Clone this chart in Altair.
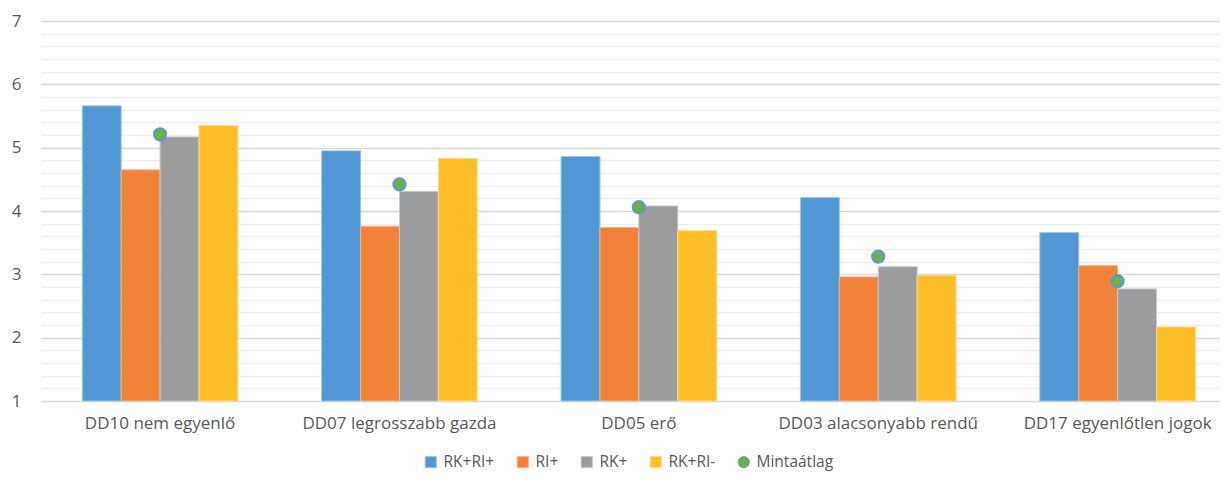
import altair as alt
import pandas as pd

categories = ["DD10 nem egyenlő", "DD07 legrosszabb gazda", "DD05 erő",
              "DD03 alacsonyabb rendű", "DD17 egyenlőtlen jogok"]
series = ["RK+RI+", "RI+", "RK+", "RK+RI-"]
rk_ri_plus = [5.66, 4.95, 4.86, 4.21, 3.66]
ri_plus = [4.65, 3.76, 3.74, 2.96, 3.14]
rk_plus = [5.17, 4.31, 4.08, 3.12, 2.77]
rk_ri_minus = [5.35, 4.83, 3.69, 2.98, 2.17]
mean_label = "Mintaátlag"
sample_mean = [5.21, 4.42, 4.06, 3.28, 2.89]

y_ticks = [round(1 + 0.2 * i, 1) for i in range(31)]

rows = []
for s, vals in zip(series, [rk_ri_plus, ri_plus, rk_plus, rk_ri_minus]):
    for c, v in zip(categories, vals):
        rows.append({"cat": c, "series": s, "value": v})
bars_df = pd.DataFrame(rows)
mean_df = pd.DataFrame({"cat": categories, "series": mean_label, "value": sample_mean})

legend_domain = series + [mean_label]
fill_colors = ["#5097D3", "#F0823A", "#9A9C9D", "#FDBE27", "#70AD47"]
stroke_colors = ["#9DC3E6", "#F6B48A", "#C8C9CA", "#FEDB8A", "#5B9BD5"]
FONT = "Open Sans"
GRAY = "#595959"

color_scale = alt.Scale(domain=legend_domain, range=fill_colors)
stroke_scale = alt.Scale(domain=legend_domain, range=stroke_colors)
shape_scale = alt.Scale(domain=legend_domain,
                        range=["square", "square", "square", "square", "circle"])

legend = alt.Legend(title=None, orient="none", direction="horizontal",
                    legendX=382, legendY=433, symbolSize=125, labelFontSize=15.5,
                    labelColor=GRAY, labelFont=FONT, columnPadding=20,
                    labelOffset=5, symbolStrokeWidth=1)

is_int = "abs(datum.value - round(datum.value)) < 0.001"
x = alt.X("cat:N", sort=categories, title=None,
          scale=alt.Scale(paddingInner=0.35, paddingOuter=0.1375, align=0.627),
          axis=alt.Axis(labelAngle=0, labelFontSize=17, labelFont=FONT,
                        labelColor=GRAY, domain=False, ticks=False,
                        labelPadding=14, grid=False, labelLimit=400))
y = alt.Y("value:Q", title=None,
          scale=alt.Scale(domain=[1, 7], zero=False, nice=False),
          axis=alt.Axis(values=y_ticks, format=".0f", domain=False, ticks=False,
                        labelFontSize=17, labelFont=FONT, labelColor=GRAY,
                        labelPadding=20, labelOverlap=False, labelBound=False,
                        labelExpr=is_int + " ? datum.label : ''",
                        gridColor={"condition": {"test": is_int, "value": "#D9D9D9"},
                                   "value": "#EFEFEF"},
                        gridWidth=1.3))

bars = alt.Chart(bars_df).mark_bar(strokeWidth=1).encode(
    x=x,
    xOffset=alt.XOffset("series:N", sort=series, scale=alt.Scale(paddingInner=0, paddingOuter=0)),
    y=y,
    y2=alt.datum(1),
    color=alt.Color("series:N", scale=color_scale, legend=legend),
    stroke=alt.Stroke("series:N", scale=stroke_scale, legend=legend),
)

dots = alt.Chart(mean_df).mark_point(filled=True, size=150, strokeWidth=2, opacity=1).encode(
    x=x,
    y=y,
    color=alt.Color("series:N", scale=color_scale, legend=legend),
    stroke=alt.Stroke("series:N", scale=stroke_scale, legend=legend),
    shape=alt.Shape("series:N", scale=shape_scale, legend=legend),
)

chart = alt.layer(bars, dots).properties(
    width=1179, height=380,
    autosize=alt.AutoSizeParams(type="none"),
    padding={"left": 33, "top": 13, "right": 0, "bottom": 70},
).configure(
    background="white",
    view=alt.ViewConfig(stroke="transparent", strokeWidth=0),
    axis=alt.AxisConfig(domain=False, ticks=False),
)

chart.save("out.html", embed_options={"renderer": "svg", "actions": False})
